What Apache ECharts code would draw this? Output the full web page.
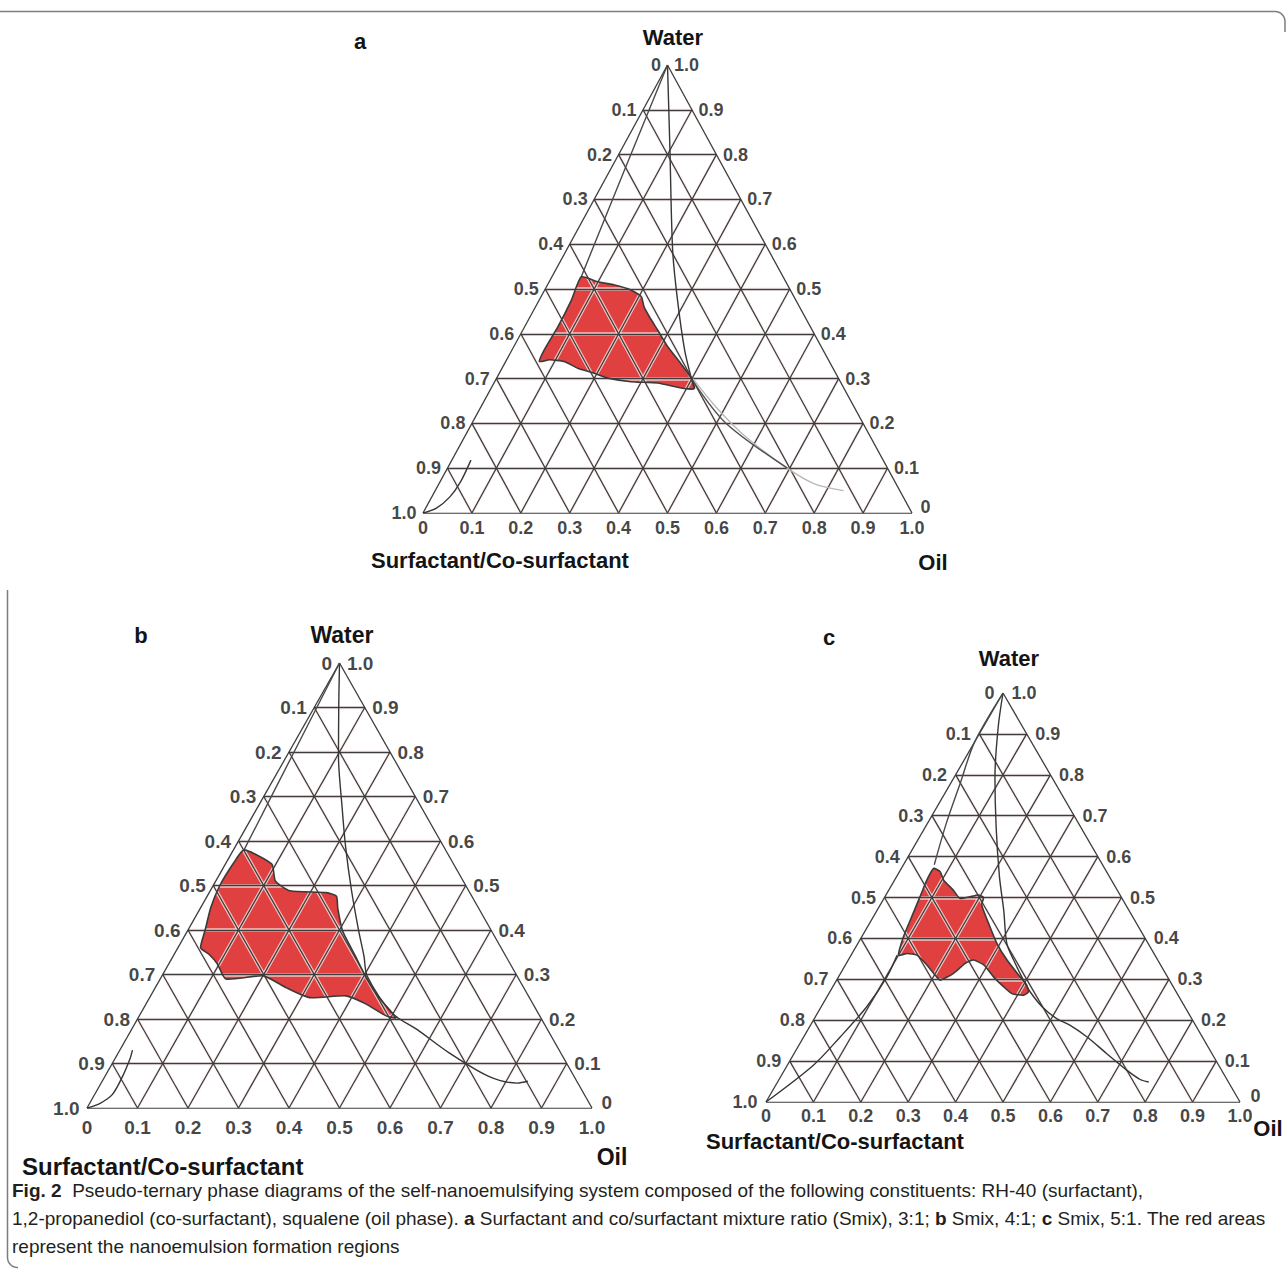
<!DOCTYPE html>
<html>
<head>
<meta charset="utf-8">
<script src="https://cdn.jsdelivr.net/npm/echarts@6/dist/echarts.min.js"></script>
<style>
  html, body { margin: 0; padding: 0; background: #ffffff; }
  #chart { width: 1287px; height: 1269px; }
</style>
</head>
<body>
<div id="chart"></div>
<script>
// Tick values along every side of the ternary diagrams
const TICK_VALUES = [0, 0.1, 0.2, 0.3, 0.4, 0.5, 0.6, 0.7, 0.8, 0.9, 1.0];
const TICK_TEXT = ['0', '0.1', '0.2', '0.3', '0.4', '0.5', '0.6', '0.7', '0.8', '0.9', '1.0'];
const INNER_TICKS = TICK_VALUES.slice(1, -1);

// Compositions are written as [oil, water]; surfactant mix = 1 - oil - water.
// Nanoemulsion region, Smix 3:1
const REGION_A = [
  [0.060, 0.527], [0.099, 0.516], [0.137, 0.509], [0.176, 0.498], [0.205, 0.483],
  [0.222, 0.460], [0.244, 0.438], [0.276, 0.408], [0.315, 0.371], [0.360, 0.334],
  [0.398, 0.301], [0.416, 0.278], [0.395, 0.278], [0.335, 0.290], [0.279, 0.293],
  [0.228, 0.301], [0.194, 0.312], [0.155, 0.323], [0.120, 0.338], [0.088, 0.342],
  [0.069, 0.338], [0.066, 0.364], [0.068, 0.416], [0.066, 0.475]
];
// Nanoemulsion region, Smix 4:1
const REGION_B = [
  [0.021, 0.580], [0.092, 0.548], [0.118, 0.510], [0.158, 0.488], [0.232, 0.484],
  [0.256, 0.476], [0.272, 0.449], [0.307, 0.398], [0.364, 0.338], [0.406, 0.293],
  [0.454, 0.248], [0.510, 0.203], [0.489, 0.207], [0.435, 0.234], [0.387, 0.252],
  [0.317, 0.248], [0.260, 0.270], [0.201, 0.297], [0.130, 0.290], [0.096, 0.324],
  [0.068, 0.346], [0.045, 0.360], [0.034, 0.400], [0.020, 0.450], [0.013, 0.500],
  [0.015, 0.550]
];
// Nanoemulsion region, Smix 5:1
const REGION_C = [
  [0.068, 0.571], [0.086, 0.563], [0.103, 0.543], [0.136, 0.518], [0.160, 0.498],
  [0.179, 0.502], [0.195, 0.506], [0.209, 0.500], [0.214, 0.482], [0.251, 0.437],
  [0.293, 0.388], [0.335, 0.347], [0.383, 0.306], [0.407, 0.286], [0.419, 0.269],
  [0.413, 0.261], [0.386, 0.265], [0.360, 0.282], [0.327, 0.306], [0.292, 0.335],
  [0.264, 0.347], [0.251, 0.339], [0.238, 0.314], [0.218, 0.298], [0.202, 0.310],
  [0.172, 0.335], [0.139, 0.359], [0.116, 0.363], [0.100, 0.359], [0.088, 0.404],
  [0.082, 0.445], [0.074, 0.502], [0.068, 0.543]
];

// Phase boundary curves, Smix 3:1
const APEX_CURVE_A = [[0, 1], [0.100, 0.810], [0.217, 0.587], [0.283, 0.475], [0.353, 0.364], [0.401, 0.297], [0.416, 0.278]];
const LEFT_CURVE_A = [[0, 1], [0.030, 0.760], [0.060, 0.527]];
const TAIL_DARK_A = [[0.410, 0.290], [0.520, 0.200], [0.695, 0.100]];
const TAIL_LIGHT_A = [[0.402, 0.300], [0.483, 0.235], [0.575, 0.170], [0.695, 0.100], [0.768, 0.065], [0.835, 0.050]];
const BASE_CURVE_A = [[0, 0], [0.022, 0.011], [0.037, 0.036], [0.042, 0.070], [0.039, 0.118]];

// Phase boundary curves, Smix 4:1
const APEX_CURVE_B = [
  [0, 1], [0.047, 0.903], [0.103, 0.790], [0.166, 0.678], [0.218, 0.588], [0.278, 0.491],
  [0.337, 0.401], [0.378, 0.341], [0.407, 0.296], [0.498, 0.213], [0.566, 0.176],
  [0.655, 0.124], [0.760, 0.071], [0.824, 0.056], [0.843, 0.060]
];
const LEFT_CURVE_B = [[0, 1], [0.010, 0.800], [0.021, 0.580]];
const BASE_CURVE_B = [[0, 0], [0.020, 0.010], [0.035, 0.030], [0.035, 0.070], [0.030, 0.110], [0.025, 0.130]];

// Phase boundary curves, Smix 5:1
const APEX_CURVE_C = [
  [0, 1], [0.031, 0.918], [0.085, 0.796], [0.149, 0.673], [0.217, 0.551], [0.267, 0.469],
  [0.314, 0.388], [0.349, 0.347], [0.394, 0.298], [0.423, 0.269], [0.466, 0.233],
  [0.511, 0.204], [0.547, 0.188], [0.598, 0.159], [0.660, 0.118], [0.722, 0.078],
  [0.762, 0.055], [0.783, 0.049]
];
const LEFT_CURVE_C = [[0, 1], [0, 0.880], [0.020, 0.780], [0.040, 0.680], [0.065, 0.580]];
const BASE_CURVE_C = [[0, 0], [0.055, 0.090], [0.077, 0.159], [0.096, 0.233], [0.102, 0.306], [0.097, 0.359]];

const FONT = '"Liberation Sans", Arial, Helvetica, sans-serif';
const INK = '#141414';
const GRID_INK = '#3d3d3d';
const RED = '#e0403f';

// Ternary [oil, water] -> cartesian [x, y] in a unit triangle
function toXY(p) { return [p[0] + p[1] / 2, p[1]]; }

const PANELS = [
  {
    grid: { left: 423, top: 65, width: 489, height: 448 }, tickFont: 18, sideGap: 6, baseGap: 5,
    region: REGION_A,
    curves: [
      { pts: APEX_CURVE_A, color: '#363636' },
      { pts: LEFT_CURVE_A, color: '#4a4a4a' },
      { pts: TAIL_LIGHT_A, color: '#b8b8b8' },
      { pts: TAIL_DARK_A, color: '#505050' },
      { pts: BASE_CURVE_A, color: '#363636' }
    ]
  },
  {
    grid: { left: 87, top: 663, width: 505, height: 445 }, tickFont: 19, sideGap: 7, baseGap: 9,
    region: REGION_B,
    curves: [
      { pts: APEX_CURVE_B, color: '#363636' },
      { pts: LEFT_CURVE_B, color: '#4a4a4a' },
      { pts: BASE_CURVE_B, color: '#363636' }
    ]
  },
  {
    grid: { left: 766, top: 693, width: 474, height: 409 }, tickFont: 18, sideGap: 8, baseGap: 4,
    region: REGION_C,
    curves: [
      { pts: APEX_CURVE_C, color: '#363636' },
      { pts: LEFT_CURVE_C, color: '#4a4a4a' },
      { pts: BASE_CURVE_C, color: '#363636' }
    ]
  }
];

// Grid segments: constant water, constant oil and constant surfactant-mix lines
function gridSegments() {
  const segs = [];
  INNER_TICKS.forEach(v => {
    segs.push([[0, v], [1 - v, v]]);      // water = v
    segs.push([[v, 0], [v, 1 - v]]);      // oil = v
    segs.push([[1 - v, 0], [0, 1 - v]]);  // surfactant mix = v
  });
  return segs.map(s => ({ coords: s.map(toXY) }));
}
function edgeSegments() {
  return [
    [[0, 0], [1, 0]], [[0, 0], [0, 1]], [[1, 0], [0, 1]]
  ].map(s => ({ coords: s.map(toXY) }));
}

function polygonSeries(i, pts, style, z) {
  return {
    type: 'custom', xAxisIndex: i, yAxisIndex: i, z: z, silent: true,
    data: pts.map(toXY),
    renderItem: function (params, api) {
      if (params.dataIndex !== 0) return null;
      const points = pts.map(p => api.coord(toXY(p)));
      return { type: 'polygon', shape: { points: points, smooth: 0.18 }, style: style };
    }
  };
}

function labelSeries(i, data, position, fontSize, distance) {
  return {
    type: 'scatter', xAxisIndex: i, yAxisIndex: i, z: 8, silent: true,
    symbolSize: 1, itemStyle: { color: 'rgba(0,0,0,0)' },
    data: data,
    label: {
      show: true, position: position, distance: distance, formatter: '{b}',
      fontSize: fontSize, fontWeight: 'bold', fontFamily: FONT, color: INK
    }
  };
}

const grids = [], xAxes = [], yAxes = [], series = [];
PANELS.forEach((p, i) => {
  grids.push(p.grid);
  xAxes.push({ type: 'value', gridIndex: i, min: 0, max: 1, show: false });
  yAxes.push({ type: 'value', gridIndex: i, min: 0, max: 1, show: false });

  series.push(polygonSeries(i, p.region, { fill: RED, stroke: null }, 1));
  // pale halo under the grid lines, visible only over the red area
  series.push({
    type: 'lines', coordinateSystem: 'cartesian2d', xAxisIndex: i, yAxisIndex: i, z: 2, silent: true,
    data: gridSegments(),
    lineStyle: { color: 'rgba(255,240,240,0.75)', width: 3.6, opacity: 1 }
  });
  series.push({
    type: 'lines', coordinateSystem: 'cartesian2d', xAxisIndex: i, yAxisIndex: i, z: 3, silent: true,
    data: gridSegments().concat(edgeSegments()),
    lineStyle: { color: GRID_INK, width: 1.3, opacity: 1 }
  });
  p.curves.forEach(c => {
    series.push({
      type: 'line', xAxisIndex: i, yAxisIndex: i, z: 4, silent: true,
      data: c.pts.map(toXY), smooth: 0.3, showSymbol: false,
      lineStyle: { color: c.color, width: 1.4 }
    });
  });
  series.push(polygonSeries(i, p.region, { fill: 'none', stroke: '#3a3a3a', lineWidth: 1.6 }, 5));

  const left = TICK_VALUES.map((v, k) => ({ name: TICK_TEXT[k], value: toXY([0, 1 - v]) }));
  // the "0" at the oil corner sits a little higher, clear of the base "1.0"
  const right = TICK_VALUES.map((v, k) => ({
    name: TICK_TEXT[k], value: toXY([1 - v, v]),
    label: v === 0 ? { offset: [2, -6] } : undefined
  }));
  const bottom = TICK_VALUES.map((v, k) => ({ name: TICK_TEXT[k], value: toXY([v, 0]) }));
  series.push(labelSeries(i, left, 'left', p.tickFont, p.sideGap));
  series.push(labelSeries(i, right, 'right', p.tickFont, p.sideGap));
  series.push(labelSeries(i, bottom, 'bottom', p.tickFont, p.baseGap));
});

function txt(text, x, y, size, align, weight) {
  return {
    type: 'text', silent: true, z: 10,
    style: {
      text: text, x: x, y: y, fontSize: size, fontWeight: weight || 'bold', fontFamily: FONT,
      fill: INK, align: align || 'center', verticalAlign: 'middle'
    }
  };
}

// Rounded frame corner drawn as a polyline: straight runs joined by a quarter arc
function cornerPoints(start, cx, cy, r, a0, a1, end) {
  const pts = [start];
  for (let k = 0; k <= 8; k++) {
    const a = a0 + (a1 - a0) * k / 8;
    pts.push([cx + r * Math.cos(a), cy + r * Math.sin(a)]);
  }
  pts.push(end);
  return pts;
}

const CAPTION = [
  '{b|Fig. 2}{n|  Pseudo-ternary phase diagrams of the self-nanoemulsifying system composed of the following constituents: RH-40 (surfactant),}',
  '{n|1,2-propanediol (co-surfactant), squalene (oil phase). }{b|a}{n| Surfactant and co/surfactant mixture ratio (Smix), 3:1; }{b|b}{n| Smix, 4:1; }{b|c}{n| Smix, 5:1. The red areas}',
  '{n|represent the nanoemulsion formation regions}'
].join('\n');

const graphics = [
  { type: 'polyline', silent: true,
    shape: { points: cornerPoints([0, 11.5], 1275, 21.5, 10, -Math.PI / 2, 0, [1285, 32]) },
    style: { fill: null, stroke: '#7d7d7d', lineWidth: 1.5 } },
  { type: 'polyline', silent: true,
    shape: { points: cornerPoints([7.5, 590], 17.5, 1257.5, 10, Math.PI, Math.PI / 2, [18, 1267.5]) },
    style: { fill: null, stroke: '#7d7d7d', lineWidth: 1.5 } },

  txt('a', 360, 41, 22),
  txt('Water', 673, 37, 22),
  txt('Surfactant/Co-surfactant', 371, 560, 22, 'left'),
  txt('Oil', 933, 562, 22),

  txt('b', 141, 635, 22),
  txt('Water', 342, 635, 23),
  txt('Surfactant/Co-surfactant', 22, 1166, 24, 'left'),
  txt('Oil', 612, 1157, 23),

  txt('c', 829, 637, 22),
  txt('Water', 1009, 658, 22),
  txt('Surfactant/Co-surfactant', 706, 1141, 22, 'left'),
  txt('Oil', 1268, 1128, 22),

  {
    type: 'text', silent: true, z: 10,
    style: {
      text: CAPTION, x: 12, y: 1176, fontFamily: FONT, fontSize: 19, fill: '#231f20',
      align: 'left', verticalAlign: 'top', lineHeight: 28,
      rich: {
        n: { fontFamily: FONT, fontSize: 19, lineHeight: 28, fill: '#231f20' },
        b: { fontFamily: FONT, fontSize: 19, lineHeight: 28, fontWeight: 'bold', fill: '#231f20' }
      }
    }
  }
];

const chart = echarts.init(document.getElementById('chart'), null, { renderer: 'svg' });
chart.setOption({
  animation: false,
  backgroundColor: '#ffffff',
  grid: grids,
  xAxis: xAxes,
  yAxis: yAxes,
  series: series,
  graphic: graphics
});
</script>
</body>
</html>
